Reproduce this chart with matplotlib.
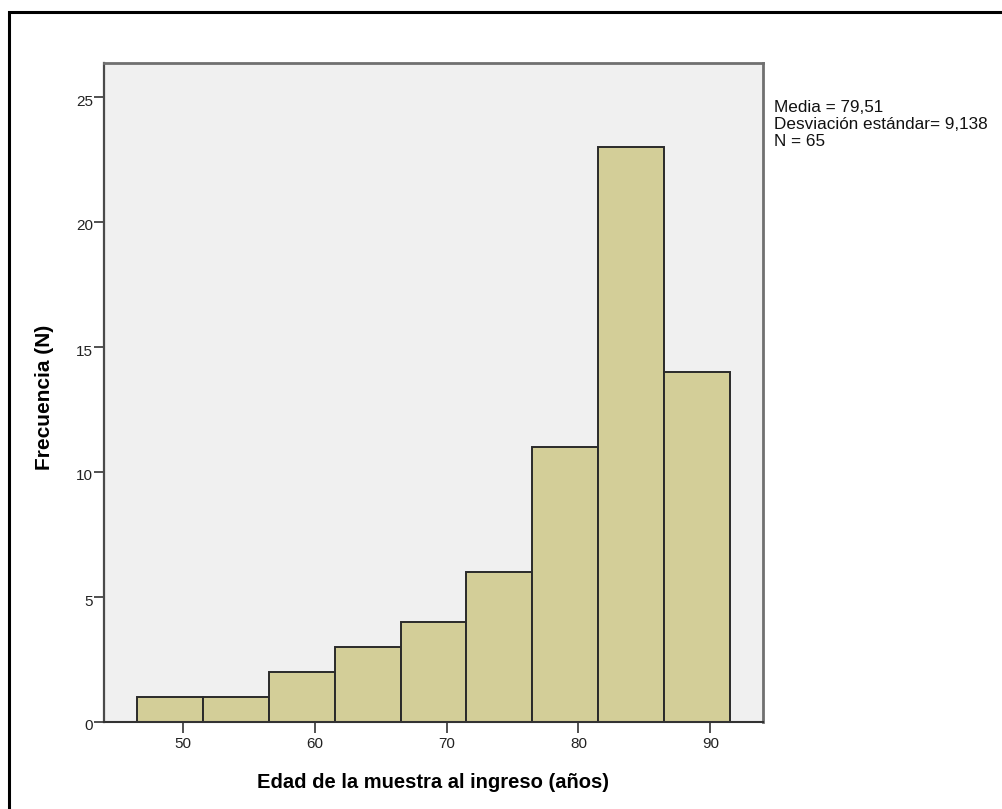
import matplotlib
matplotlib.use("Agg")
import matplotlib.pyplot as plt
from matplotlib.patches import Rectangle
from matplotlib.transforms import ScaledTranslation
import numpy as np

# Histogram of age at admission (5-year bins)
bin_edges = [46.5, 51.5, 56.5, 61.5, 66.5, 71.5, 76.5, 81.5, 86.5, 91.5]
counts = [1, 1, 2, 3, 4, 6, 11, 23, 14]
x_ticks = [50, 60, 70, 80, 90]
y_ticks = [0, 5, 10, 15, 20, 25]
stats_lines = ["Media = 79,51", "Desviación estándar= 9,138", "N = 65"]
x_label = "Edad de la muestra al ingreso (años)"
y_label = "Frecuencia (N)"

plt.rcParams['font.family'] = ['Liberation Sans', 'DejaVu Sans']

W, H = 1003, 809
fig = plt.figure(figsize=(W / 100, H / 100), dpi=100)
fig.patch.set_facecolor('white')

ax = fig.add_axes([104 / W, 1 - 722 / H, (763 - 104) / W, (722 - 63) / H])
ax.set_facecolor('#f0f0f0')

edges = np.array(bin_edges)
widths = np.diff(edges)
ax.bar(edges[:-1], counts, width=widths, align='edge',
       color='#d3ce98', edgecolor='#2a2a2a', linewidth=1.4, zorder=2)

ax.set_xlim(44, 94)
ax.set_ylim(0, 26.36)
ax.set_xticks(x_ticks)
ax.set_yticks(y_ticks)
ax.tick_params(axis='x', direction='out', length=8, width=1.2, color='#333333',
               labelsize=11, pad=3, labelcolor='#222222')
ax.tick_params(axis='y', direction='out', length=7, width=1.2, color='#333333',
               labelsize=11, pad=1, labelcolor='#222222')

# y tick labels sit slightly below their ticks
shift = ScaledTranslation(0, -3 / 100, fig.dpi_scale_trans)
for lbl in ax.get_yticklabels():
    lbl.set_transform(lbl.get_transform() + shift)

for side in ['top', 'right']:
    ax.spines[side].set_color('#707070')
    ax.spines[side].set_linewidth(2)
ax.spines['left'].set_color('#4a4a4a')
ax.spines['left'].set_linewidth(1.6)
ax.spines['bottom'].set_color('#333333')
ax.spines['bottom'].set_linewidth(1.5)

fig.text(433 / W, 1 - 788 / H, x_label, fontsize=14.5, fontweight='bold',
         ha='center', va='baseline')
fig.text(45 / W, 1 - 397 / H, y_label, fontsize=15, fontweight='bold',
         ha='center', va='center', rotation=90)

for i, line in enumerate(stats_lines):
    fig.text(774 / W, 1 - (112 + 17 * i) / H, line, fontsize=12.3,
             ha='left', va='baseline', color='#111111')

# Outer frame around the chart (left and top edges visible)
fig.add_artist(Rectangle((9.5 / W, -0.5), 2.0, 1.5 - 12 / H,
                         transform=fig.transFigure, fill=False,
                         edgecolor='black', linewidth=2.2))

fig.savefig("out.png", dpi=100, facecolor='white')
